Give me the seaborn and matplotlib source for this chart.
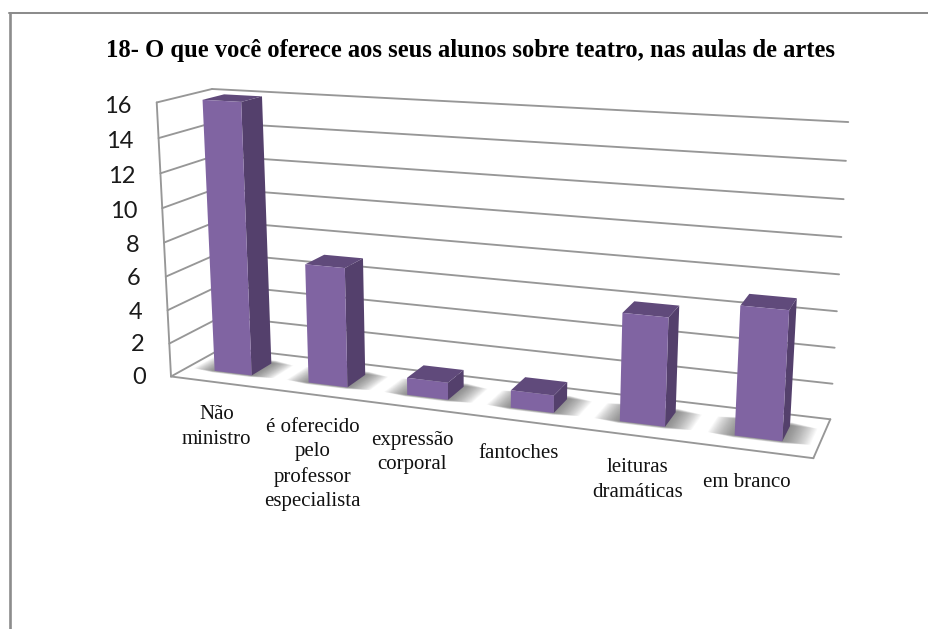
import numpy as np
import matplotlib
matplotlib.use("Agg")
import matplotlib.pyplot as plt
import matplotlib.transforms as mtransforms
from matplotlib.patches import Polygon
import seaborn as sns

TITLE = "18- O que você oferece aos seus alunos sobre teatro, nas aulas de artes"
categories = ["Não\nministro", "é oferecido\npelo\nprofessor\nespecialista",
              "expressão\ncorporal", "fantoches", "leituras\ndramáticas", "em branco"]
values = [16, 7, 1, 1, 6, 7]
y_ticks = [0, 2, 4, 6, 8, 10, 12, 14, 16]

W, H = 929, 629
BAR_WIDTH = 0.40
Z_FRONT, Z_BACK = 0.30, 0.70
FRONT_C, SIDE_C, TOP_C = "#8064A2", "#54406C", "#604A7B"
GRID_C = "#979797"
FRAME_C = "#8c8c8c"
LABEL_NUDGE = [-1, -1, -3, -3, 4, -5]

# Camera calibration of the 3-D box: (category, value, depth) -> pixel position
box_world = np.array([
    (0, 0, 0), (6, 0, 0), (0, 16, 0), (0, 16, 1), (6, 16, 1), (6, 0, 1), (0, 0, 1),
    (0, 8, 0), (6, 8, 1),
], float)
box_pixel = np.array([
    (172, 376), (813, 460), (155, 103), (213, 89), (848, 123), (830, 418), (222, 349),
    (165, 241), (840, 273),
], float)


def solve_camera(world, pixel):
    rows, rhs = [], []
    for (x, y, z), (u, v) in zip(world, pixel):
        rows.append([x, y, z, 1, 0, 0, 0, 0, -u * x, -u * y, -u * z])
        rows.append([0, 0, 0, 0, x, y, z, 1, -v * x, -v * y, -v * z])
        rhs += [u, v]
    p, *_ = np.linalg.lstsq(np.array(rows), np.array(rhs), rcond=None)
    return np.append(p, 1.0).reshape(3, 4)


CAMERA = solve_camera(box_world, box_pixel)


def project(x, y, z):
    h = CAMERA @ np.stack([np.asarray(x, float), np.asarray(y, float),
                           np.asarray(z, float), np.ones_like(np.asarray(x, float))])
    return np.stack([h[0] / h[2], h[1] / h[2]], axis=-1)


class DepthPlane(mtransforms.Transform):
    """Sends (category index, value) on a plane of constant depth to pixels."""
    input_dims = output_dims = 2
    has_inverse = False

    def __init__(self, plane_z):
        super().__init__()
        self.plane_z = plane_z

    def transform_non_affine(self, xy):
        xy = np.asarray(xy, float)
        return project(xy[:, 0] + 0.5, xy[:, 1], np.full(len(xy), self.plane_z))


sns.set_theme(style="white")
fig, ax = plt.subplots(figsize=(W / 100, H / 100), dpi=100)
fig.patch.set_facecolor("white")
ax.set_position([0, 0, 1, 1])

to_display = mtransforms.Affine2D().scale(1, -1).translate(0, H)


def segment(p, q, z=2, color=GRID_C, lw=1.35):
    ax.plot([p[0], q[0]], [p[1], q[1]], transform=to_display, color=color, lw=lw,
            clip_on=False, zorder=z, solid_capstyle="round")


def face(points, color, z=5, alpha=1.0):
    ax.add_patch(Polygon(points, closed=True, transform=to_display, facecolor=color,
                         edgecolor="none", alpha=alpha, clip_on=False, zorder=z))


# Front faces come straight from seaborn and are pushed onto the front plane of the bars
sns.barplot(x=list(range(len(values))), y=values, color=FRONT_C, saturation=1,
            width=BAR_WIDTH, linewidth=0, ax=ax, zorder=6)
for patch in ax.patches:
    patch.set_transform(DepthPlane(Z_FRONT) + to_display)
    patch.set_clip_on(False)
ax.set_axis_off()

# Walls and floor outline
for t in y_ticks:
    segment(project(0, t, 0), project(0, t, 1))
    segment(project(0, t, 1), project(6, t, 1))
segment(project(0, 0, 0), project(0, 16, 0))
segment(project(0, 0, 0), project(6, 0, 0))
segment(project(6, 0, 0), project(6, 0, 1))

# Soft contact shadows and side/top faces of each bar
half = BAR_WIDTH / 2
LAYERS = 24
for i, v in enumerate(values):
    c = i + 0.5
    for k in range(LAYERS, 0, -1):
        grow = k / LAYERS
        ex = 0.23 * grow
        z_near = Z_FRONT - 0.05 + 0.05 * grow
        z_far = Z_BACK + 0.10 - 0.08 * grow
        quad = project(np.array([c - half - ex, c + half + ex, c + half + ex, c - half - ex]),
                       np.zeros(4),
                       np.array([z_near, z_near, z_far, z_far]))
        face(quad, "#4d4d4d", z=3, alpha=0.035)
    right = c + half
    left = c - half
    side = project(np.array([right, right, right, right]), np.array([0, v, v, 0]),
                   np.array([Z_FRONT, Z_FRONT, Z_BACK, Z_BACK]))
    top = project(np.array([left, right, right, left]), np.full(4, v),
                  np.array([Z_FRONT, Z_FRONT, Z_BACK, Z_BACK]))
    face(side, SIDE_C)
    face(top, TOP_C)

# Value axis labels
for t in y_ticks:
    x, y = project(0, t, 0)
    ax.text(x - 25, y + 1 + 3 * t / 16, str(t), transform=to_display, ha="right", va="center",
            fontsize=17, family="Lato", color="#1a1a1a", clip_on=False)

# Category labels hang under the front edge of the floor
for i, label in enumerate(categories):
    x, y = project(i + 0.5, 0, 0)
    ax.text(x + LABEL_NUDGE[i], y + 23, label, transform=to_display, ha="center", va="top",
            fontsize=15, family="Liberation Serif", color="#111111",
            linespacing=1.38, clip_on=False)

fig.text(470.5 / W, 1 - 51 / H, TITLE, ha="center", va="center", fontsize=17.7,
         family="Liberation Serif", fontweight="bold", color="black")

# Sheet frame along the top and left
segment((8.5, 13), (W, 13), z=1, color=FRAME_C, lw=1.45)
segment((9.5, 13), (9.5, H), z=1, color=FRAME_C, lw=1.9)

fig.savefig("out.png", dpi=100)
